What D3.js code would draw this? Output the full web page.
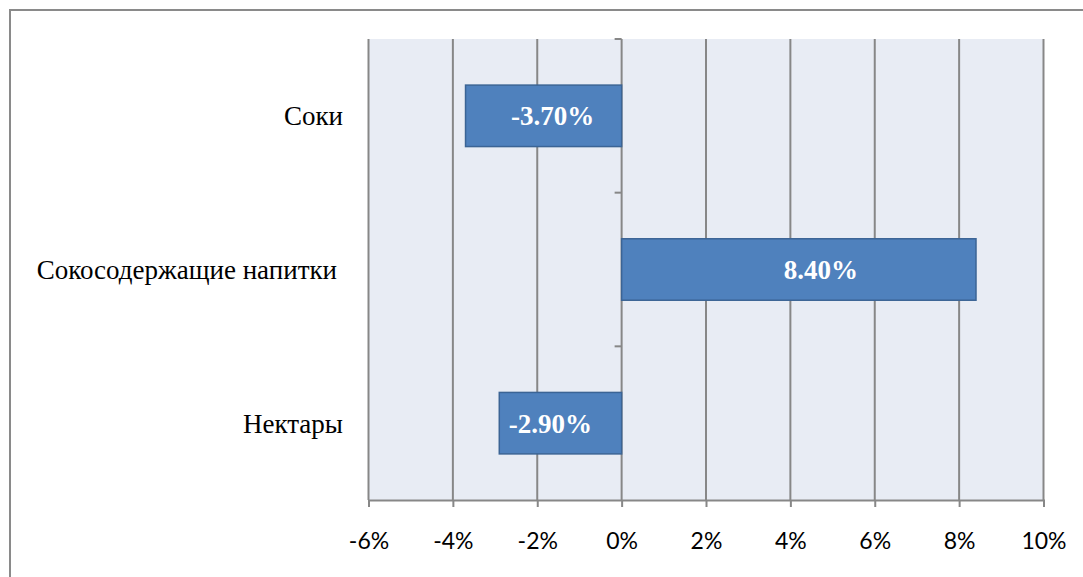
<!DOCTYPE html>
<html>
<head>
<meta charset="utf-8">
<script src="https://cdn.jsdelivr.net/npm/d3@7"></script>
<style>
  html, body { margin: 0; padding: 0; background: #fff; }
  svg { display: block; }
</style>
</head>
<body>
<svg id="chart" width="1083" height="577"></svg>
<script>
// Product groups (top to bottom) and their change, in percent
const categories = ["Соки", "Сокосодержащие напитки", "Нектары"];
const values = [-3.7, 8.4, -2.9];
const valueLabels = ["-3.70%", "8.40%", "-2.90%"];
const xTicks = [-6, -4, -2, 0, 2, 4, 6, 8, 10];

const svg = d3.select("#chart");
const W = 1083, H = 577;

// Outer chart frame
svg.append("rect")
  .attr("x", 10).attr("y", 10)
  .attr("width", W + 10).attr("height", H + 10)
  .attr("fill", "#fff")
  .attr("stroke", "#8a8a8a").attr("stroke-width", 2);

const plot = { left: 368.5, right: 1043.5, top: 39, bottom: 500 };

const x = d3.scaleLinear().domain([-6, 10]).range([plot.left, plot.right]);
const y = d3.scaleBand().domain(categories).range([plot.top, plot.bottom]).paddingInner(0.6).paddingOuter(0.3);

// Plot background
svg.append("rect")
  .attr("x", plot.left).attr("y", plot.top)
  .attr("width", plot.right - plot.left).attr("height", plot.bottom - plot.top)
  .attr("fill", "#E8ECF4");

// Vertical gridlines
svg.append("g").selectAll("line").data(xTicks).join("line")
  .attr("x1", d => x(d)).attr("x2", d => x(d))
  .attr("y1", plot.top).attr("y2", plot.bottom)
  .attr("stroke", "#878787").attr("stroke-width", 2);

// Bottom value axis
const xAxis = svg.append("g")
  .attr("transform", `translate(0,${plot.bottom})`)
  .call(d3.axisBottom(x).tickValues(xTicks).tickSize(7).tickPadding(26).tickFormat(d => d + "%"));
xAxis.select(".domain").attr("stroke", "#878787").attr("stroke-width", 2);
xAxis.selectAll(".tick line").attr("stroke", "#878787").attr("stroke-width", 2);
xAxis.selectAll(".tick text")
  .attr("fill", "#000")
  .attr("font-family", "Lato, 'Open Sans', sans-serif")
  .attr("font-size", 23);

// Category axis on the zero line: ticks between bands
const bandEdges = d3.range(categories.length).map(i => plot.top + i * (plot.bottom - plot.top) / categories.length);
svg.append("g").selectAll("line").data(bandEdges).join("line")
  .attr("x1", x(0) - 7).attr("x2", x(0))
  .attr("y1", d => d).attr("y2", d => d)
  .attr("stroke", "#878787").attr("stroke-width", 2);

// Bars
svg.append("g").selectAll("rect").data(categories).join("rect")
  .attr("x", (d, i) => x(Math.min(0, values[i])))
  .attr("y", d => y(d))
  .attr("width", (d, i) => Math.abs(x(values[i]) - x(0)))
  .attr("height", y.bandwidth())
  .attr("fill", "#4F81BD")
  .attr("stroke", "#3B6495").attr("stroke-width", 1.5);

// Category labels
svg.append("g").selectAll("text").data(categories).join("text")
  .attr("x", (d, i) => i === 1 ? 337 : 343)
  .attr("y", d => y(d) + y.bandwidth() / 2)
  .attr("dy", "0.35em")
  .attr("text-anchor", "end")
  .attr("font-family", "'Liberation Serif', 'Times New Roman', serif")
  .attr("font-size", 27)
  .attr("fill", "#000")
  .text(d => d);

// Value labels inside bars (shifted slightly from bar centres)
const labelShift = [9, 22, -10];
svg.append("g").selectAll("text").data(categories).join("text")
  .attr("x", (d, i) => (x(values[i]) + x(0)) / 2 + labelShift[i])
  .attr("y", d => y(d) + y.bandwidth() / 2)
  .attr("dy", "0.35em")
  .attr("text-anchor", "middle")
  .attr("font-family", "'Liberation Serif', 'Times New Roman', serif")
  .attr("font-weight", "bold")
  .attr("font-size", 27)
  .attr("fill", "#fff")
  .text((d, i) => valueLabels[i]);
</script>
</body>
</html>
